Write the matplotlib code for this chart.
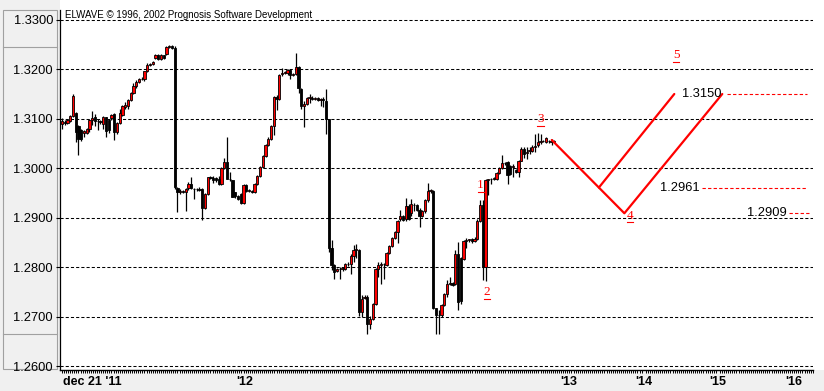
import matplotlib
matplotlib.use("Agg")
import matplotlib.pyplot as plt
from matplotlib.patches import Rectangle
from matplotlib.lines import Line2D
from matplotlib.ticker import MultipleLocator
import numpy as np

plt.rcParams['font.family'] = ['Liberation Sans', 'DejaVu Sans']

# ---------------- data (one bar per slot) ----------------
opens = [
    # rally into the first top
    1.3090, 1.3094, 1.3092, 1.3096, 1.3105, 1.3112, 1.3085, 1.3078, 1.3072, 1.3072,
    1.3080, 1.3098, 1.3103, 1.3095, 1.3095, 1.3090, 1.3103, 1.3097, 1.3101, 1.3109,
    1.3074, 1.3091, 1.3108, 1.3124, 1.3126, 1.3137, 1.3152, 1.3166, 1.3174, 1.3181,
    1.3181, 1.3196, 1.3208, 1.3210, 1.3222, 1.3228, 1.3221, 1.3228, 1.3231, 1.3244,
    1.3246, 1.3243,
    # second swing
    1.2961, 1.2953, 1.2954, 1.2951, 1.2960, 1.2968, 1.2959, 1.2958, 1.2959, 1.2958,
    1.2920, 1.2947, 1.2982, 1.2981, 1.2980, 1.2979, 1.2968, 1.3001, 1.3013, 1.2979,
    1.2976, 1.2951, 1.2944, 1.2947, 1.2930, 1.2967, 1.2955, 1.2955, 1.2951, 1.2969,
    1.2985, 1.3003, 1.3024, 1.3046, 1.3060, 1.3085, 1.3144, 1.3139, 1.3190, 1.3193,
    1.3193, 1.3199, 1.3189, 1.3190, 1.3205, 1.3160, 1.3126, 1.3130, 1.3142, 1.3142,
    1.3140, 1.3141, 1.3138, 1.3140, 1.3135, 1.3100,
    # third swing
    1.2838, 1.2804, 1.2792, 1.2797, 1.2796, 1.2796, 1.2807, 1.2807, 1.2823, 1.2835,
    1.2835, 1.2709, 1.2738, 1.2739, 1.2685, 1.2695, 1.2726, 1.2797, 1.2805, 1.2807,
    1.2805, 1.2828, 1.2843, 1.2860, 1.2872, 1.2898, 1.2903, 1.2898, 1.2923, 1.2910,
    1.2926, 1.2925, 1.2916, 1.2903, 1.2913, 1.2935, 1.2955, 1.2955,
    # waves 1-2-3
    1.2717, 1.2704, 1.2703, 1.2723, 1.2746, 1.2767, 1.2768, 1.2766, 1.2827, 1.2818,
    1.2817, 1.2854, 1.2856, 1.2857, 1.2854, 1.2858, 1.2893, 1.2926, 1.2801, 1.2977,
    1.2978, 1.2979, 1.2979, 1.2990, 1.3001, 1.3010, 1.3012, 1.3005, 1.3003, 1.2997,
    1.2992, 1.3015, 1.3039, 1.3031, 1.3035, 1.3034, 1.3043, 1.3046, 1.3054, 1.3055,
    1.3054, 1.3056, 1.3055, 1.3054,
]
highs = [
    1.3101, 1.3097, 1.3100, 1.3107, 1.3150, 1.3114, 1.3087, 1.3080, 1.3077, 1.3082,
    1.3100, 1.3115, 1.3110, 1.3099, 1.3098, 1.3106, 1.3104, 1.3100, 1.3110, 1.3112,
    1.3093, 1.3120, 1.3127, 1.3133, 1.3140, 1.3154, 1.3173, 1.3178, 1.3183, 1.3184,
    1.3197, 1.3213, 1.3213, 1.3217, 1.3230, 1.3230, 1.3230, 1.3229, 1.3247, 1.3248,
    1.3248, 1.3246,
    1.2962, 1.2958, 1.2957, 1.2961, 1.2972, 1.2983, 1.2961, 1.2961, 1.2962, 1.2961,
    1.2949, 1.2983, 1.2984, 1.2985, 1.2983, 1.2985, 1.3003, 1.3021, 1.3063, 1.2992,
    1.2977, 1.2953, 1.2946, 1.2949, 1.2969, 1.2969, 1.2958, 1.2957, 1.2970, 1.2987,
    1.3004, 1.3026, 1.3048, 1.3063, 1.3087, 1.3145, 1.3147, 1.3190, 1.3203, 1.3197,
    1.3200, 1.3200, 1.3193, 1.3233, 1.3207, 1.3162, 1.3135, 1.3144, 1.3149, 1.3146,
    1.3144, 1.3143, 1.3142, 1.3143, 1.3161, 1.3100,
    1.2855, 1.2807, 1.2799, 1.2801, 1.2801, 1.2809, 1.2810, 1.2826, 1.2845, 1.2846,
    1.2837, 1.2743, 1.2743, 1.2743, 1.2702, 1.2728, 1.2799, 1.2811, 1.2811, 1.2808,
    1.2830, 1.2845, 1.2862, 1.2874, 1.2896, 1.2916, 1.2905, 1.2940, 1.2927, 1.2937,
    1.2930, 1.2927, 1.2920, 1.2915, 1.2937, 1.2971, 1.2958, 1.2957,
    1.2718, 1.2713, 1.2725, 1.2748, 1.2774, 1.2780, 1.2770, 1.2834, 1.2851, 1.2820,
    1.2855, 1.2859, 1.2858, 1.2860, 1.2862, 1.2897, 1.2936, 1.2936, 1.2979, 1.2979,
    1.2981, 1.2982, 1.2992, 1.3003, 1.3026, 1.3013, 1.3015, 1.3007, 1.3009, 1.2999,
    1.3017, 1.3042, 1.3042, 1.3042, 1.3042, 1.3046, 1.3069, 1.3072, 1.3069, 1.3058,
    1.3063, 1.3058, 1.3059, 1.3057,
]
lows = [
    1.3080, 1.3088, 1.3089, 1.3094, 1.3104, 1.3053, 1.3026, 1.3055, 1.3064, 1.3070,
    1.3074, 1.3088, 1.3085, 1.3077, 1.3090, 1.3080, 1.3064, 1.3072, 1.3097, 1.3057,
    1.3070, 1.3089, 1.3106, 1.3120, 1.3120, 1.3135, 1.3149, 1.3163, 1.3172, 1.3178,
    1.3176, 1.3194, 1.3206, 1.3208, 1.3220, 1.3219, 1.3218, 1.3220, 1.3229, 1.3242,
    1.3240, 1.2958,
    1.2912, 1.2947, 1.2950, 1.2913, 1.2957, 1.2958, 1.2937, 1.2955, 1.2954, 1.2896,
    1.2918, 1.2945, 1.2979, 1.2971, 1.2973, 1.2966, 1.2966, 1.2999, 1.2978, 1.2975,
    1.2941, 1.2940, 1.2936, 1.2928, 1.2927, 1.2953, 1.2951, 1.2950, 1.2949, 1.2967,
    1.2983, 1.3001, 1.3022, 1.3044, 1.3057, 1.3067, 1.3118, 1.3137, 1.3186, 1.3190,
    1.3188, 1.3181, 1.3186, 1.3188, 1.3152, 1.3120, 1.3084, 1.3128, 1.3132, 1.3138,
    1.3137, 1.3135, 1.3125, 1.3124, 1.3069, 1.2831,
    1.2794, 1.2777, 1.2790, 1.2777, 1.2793, 1.2794, 1.2803, 1.2787, 1.2811, 1.2818,
    1.2702, 1.2699, 1.2736, 1.2665, 1.2675, 1.2693, 1.2724, 1.2781, 1.2767, 1.2777,
    1.2803, 1.2826, 1.2841, 1.2858, 1.2848, 1.2893, 1.2894, 1.2893, 1.2896, 1.2903,
    1.2913, 1.2914, 1.2882, 1.2901, 1.2910, 1.2932, 1.2950, 1.2715,
    1.2666, 1.2666, 1.2700, 1.2721, 1.2740, 1.2764, 1.2763, 1.2764, 1.2713, 1.2725,
    1.2814, 1.2839, 1.2852, 1.2849, 1.2852, 1.2855, 1.2892, 1.2774, 1.2772, 1.2945,
    1.2968, 1.2977, 1.2977, 1.2988, 1.2999, 1.3007, 1.2968, 1.2986, 1.2982, 1.2990,
    1.2982, 1.3014, 1.3021, 1.3019, 1.3029, 1.3032, 1.3032, 1.3042, 1.3049, 1.3053,
    1.3052, 1.3052, 1.3046, 1.3051,
]
closes = [
    1.3095, 1.3092, 1.3097, 1.3105, 1.3145, 1.3074, 1.3060, 1.3060, 1.3076, 1.3080,
    1.3097, 1.3102, 1.3095, 1.3096, 1.3093, 1.3104, 1.3076, 1.3077, 1.3107, 1.3074,
    1.3091, 1.3112, 1.3125, 1.3128, 1.3137, 1.3152, 1.3166, 1.3175, 1.3181, 1.3180,
    1.3196, 1.3208, 1.3211, 1.3215, 1.3228, 1.3221, 1.3228, 1.3222, 1.3244, 1.3246,
    1.3243, 1.2963,
    1.2952, 1.2955, 1.2953, 1.2958, 1.2968, 1.2960, 1.2958, 1.2959, 1.2957, 1.2920,
    1.2947, 1.2982, 1.2981, 1.2976, 1.2976, 1.2968, 1.3001, 1.3012, 1.2978, 1.2978,
    1.2942, 1.2944, 1.2938, 1.2930, 1.2967, 1.2955, 1.2956, 1.2953, 1.2968, 1.2985,
    1.3002, 1.3024, 1.3046, 1.3060, 1.3085, 1.3144, 1.3139, 1.3188, 1.3193, 1.3194,
    1.3199, 1.3188, 1.3190, 1.3205, 1.3162, 1.3126, 1.3130, 1.3142, 1.3143, 1.3140,
    1.3141, 1.3138, 1.3140, 1.3138, 1.3100, 1.2838,
    1.2804, 1.2790, 1.2797, 1.2796, 1.2798, 1.2807, 1.2806, 1.2823, 1.2835, 1.2836,
    1.2709, 1.2736, 1.2739, 1.2685, 1.2695, 1.2726, 1.2797, 1.2805, 1.2807, 1.2806,
    1.2828, 1.2843, 1.2860, 1.2872, 1.2893, 1.2903, 1.2896, 1.2923, 1.2898, 1.2927,
    1.2925, 1.2916, 1.2903, 1.2913, 1.2935, 1.2955, 1.2956, 1.2717,
    1.2703, 1.2703, 1.2723, 1.2746, 1.2767, 1.2768, 1.2765, 1.2827, 1.2730, 1.2732,
    1.2853, 1.2855, 1.2857, 1.2853, 1.2858, 1.2893, 1.2926, 1.2801, 1.2977, 1.2978,
    1.2979, 1.2980, 1.2990, 1.3001, 1.3010, 1.3011, 1.2987, 1.2988, 1.3004, 1.2992,
    1.3015, 1.3039, 1.3029, 1.3032, 1.3036, 1.3042, 1.3044, 1.3054, 1.3055, 1.3056,
    1.3061, 1.3055, 1.3054, 1.3055,
]

price_ticks = [1.26, 1.27, 1.28, 1.29, 1.30, 1.31, 1.32, 1.33]
date_labels = ["dec 21 '11", "'12", "'13", "'14", "'15", "'16"]
date_slots = [0.4, 66.5, 184.4, 211.5, 238.5, 266.0]

# projected path: wave 3 -> wave 4 -> wave 5 target, plus early branch
proj_x = [178.1, 204.5, 240.1]
proj_y = [1.3057, 1.2909, 1.3150]
branch_y = [1.2961, 1.3150]
branch_end_x = 222.65
levels = [1.3150, 1.2961, 1.2909]
level_texts = ["1.3150", "1.2961", "1.2909"]
wave_names = ["1", "2", "3", "4", "5"]

# ---------------- figure ----------------
W, H = 824, 391
fig = plt.figure(figsize=(W / 100, H / 100), dpi=100, facecolor='#f0f0f0')

# white chart surface
fig.patches.append(Rectangle((60 / W, (H - 370) / H), 1 - 60 / W, 370 / H,
                             transform=fig.transFigure, facecolor='white',
                             edgecolor='none', zorder=-2))
# price scale frame on the left
fig.patches.append(Rectangle((2.5 / W, (H - 369) / H), 54 / W, 359 / H,
                             transform=fig.transFigure, facecolor='none',
                             edgecolor='#a0a0a0', lw=0.8, zorder=-1))
for yy in (47, 334):
    fig.lines.append(Line2D([2.5 / W, 56.5 / W], [(H - yy) / H] * 2,
                            transform=fig.transFigure, color='#a0a0a0', lw=0.8, zorder=-1))

ax = fig.add_axes([60 / W, (H - 370) / H, (813 - 60) / W, 360 / H])
ax.set_facecolor('white')
ax.set_xlim(-0.727, 273.09)
ax.set_ylim(1.25924, 1.33197)

for s in ('top', 'right'):
    ax.spines[s].set_visible(False)
ax.spines['left'].set_linewidth(0.9)
ax.spines['bottom'].set_linewidth(1.0)

# dashed price grid
for p in price_ticks:
    ax.axhline(p, color='black', lw=0.75, ls=(0, (3, 2)), zorder=1)

# candles
o = np.array(opens); h = np.array(highs); l = np.array(lows); c = np.array(closes)
x = np.arange(len(o))
up = c >= o
ax.vlines(x, l, h, color='black', lw=0.9, zorder=2)
bottoms = np.minimum(o, c)
heights = np.maximum(np.abs(c - o), 0.00004)
ax.bar(x, heights, bottom=bottoms, width=0.9,
       color=np.where(up, '#ff0000', 'black'), edgecolor='black',
       linewidth=0.6, zorder=3)

# projection
ax.plot(proj_x, proj_y, color='#ff0000', lw=1.6, zorder=4, solid_capstyle='round')
branch_start_x = np.interp(branch_y[0], proj_y[1::-1], proj_x[1::-1])
ax.plot([branch_start_x, branch_end_x], branch_y, color='#ff0000', lw=1.6,
        zorder=4, solid_capstyle='round')

# target levels
level_line_x = [(241.7, 270.9), (232.6, 270.9), (264.5, 271.6)]
level_text_x = [225.3, 217.5, 249.1]
for lv, txt, (x0, x1), tx in zip(levels, level_texts, level_line_x, level_text_x):
    ax.hlines(lv, x0, x1, color='#ff0000', lw=0.8, linestyles=(0, (3, 2)), zorder=4)
    ax.text(tx, lv, txt, fontsize=9.3, va='center', ha='left', color='black', zorder=5)

# wave counts (red, underlined)
wave_pos = [(152.2, 1.29662), (154.5, 1.27500), (174.0, 1.30985),
            (206.7, 1.29045), (223.3, 1.32288)]
for name, (wx, wy) in zip(wave_names, wave_pos):
    ax.text(wx, wy, name, color='#ff0000', fontsize=9.5, family='Liberation Serif',
            ha='center', va='center', zorder=5)
    ax.plot([wx - 1.1, wx + 1.1], [wy - 0.00135] * 2, color='#ff0000', lw=0.8, zorder=5)

# axes ticks
ax.set_yticks(price_ticks)
ax.set_yticklabels([f"{p:.4f}" for p in price_ticks])
ax.tick_params(axis='y', length=3, width=0.8, pad=2, labelsize=9.3, direction='out')

ax.set_xticks(date_slots)
ax.set_xticklabels(date_labels, fontsize=9, fontweight='bold')
ax.get_xticklabels()[0].set_ha('left')
ax.xaxis.set_minor_locator(MultipleLocator(0.75))
ax.tick_params(axis='x', which='major', length=0, pad=4)
ax.tick_params(axis='x', which='minor', length=2.2, width=0.7, direction='out')

fig.text(65 / W, 1 - 15 / H, "ELWAVE \u00a9 1996, 2002 Prognosis Software Development",
         fontsize=7, ha='left', va='center', color='black')

fig.savefig('out.png', dpi=100, facecolor=fig.get_facecolor())
